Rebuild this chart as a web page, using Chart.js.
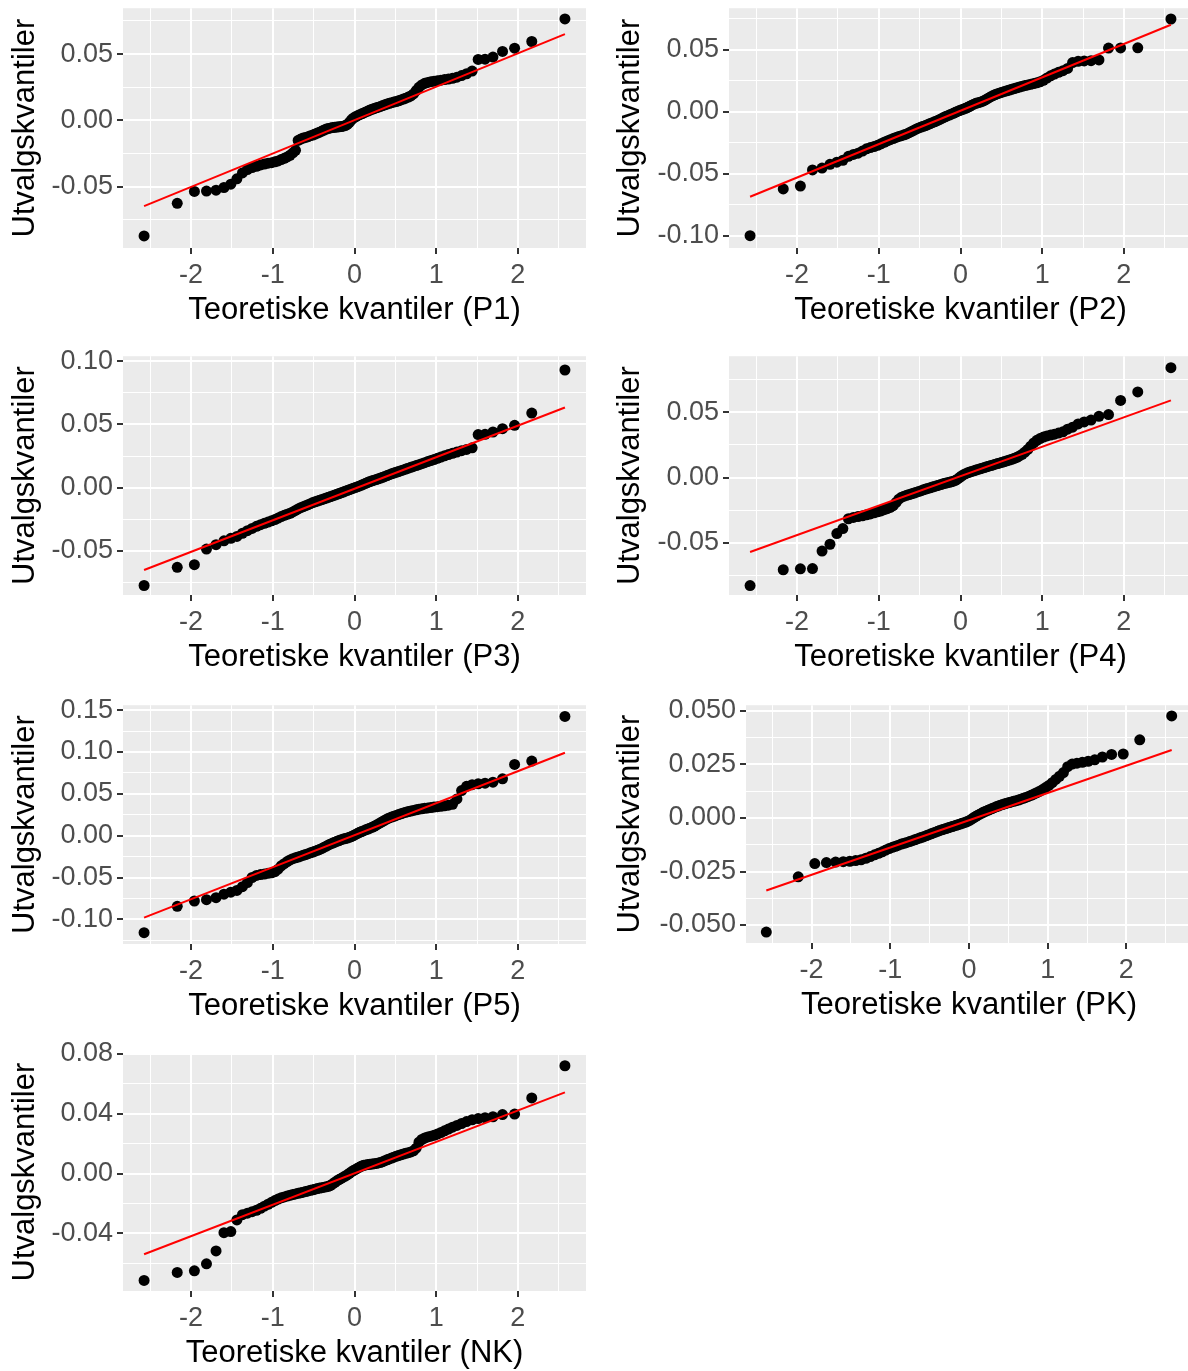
<!DOCTYPE html>
<html>
<head>
<meta charset="utf-8">
<script src="https://cdn.jsdelivr.net/npm/chart.js@4.4.1/dist/chart.umd.min.js"></script>
<style>
  html, body { margin: 0; padding: 0; background: #fff; overflow: hidden; }
  #page { position: relative; width: 1188px; height: 1371px; overflow: hidden; }
  #page canvas { position: absolute; }
</style>
</head>
<body>
<div id="page"></div>
<script>
// theoretical normal quantiles, n = 100
const theoretical = [
  -2.576, -2.170, -1.960, -1.812, -1.695, -1.598, -1.514, -1.440, -1.372, -1.311,
  -1.254, -1.200, -1.150, -1.103, -1.058, -1.015, -0.974, -0.935, -0.897, -0.860,
  -0.824, -0.789, -0.755, -0.722, -0.690, -0.659, -0.628, -0.598, -0.568, -0.539,
  -0.510, -0.482, -0.454, -0.426, -0.399, -0.372, -0.345, -0.319, -0.292, -0.266,
  -0.240, -0.215, -0.189, -0.164, -0.138, -0.113, -0.088, -0.063, -0.038, -0.013,
  0.013, 0.038, 0.063, 0.088, 0.113, 0.138, 0.164, 0.189, 0.215, 0.240,
  0.266, 0.292, 0.319, 0.345, 0.372, 0.399, 0.426, 0.454, 0.482, 0.510,
  0.539, 0.568, 0.598, 0.628, 0.659, 0.690, 0.722, 0.755, 0.789, 0.824,
  0.860, 0.897, 0.935, 0.974, 1.015, 1.058, 1.103, 1.150, 1.200, 1.254,
  1.311, 1.372, 1.440, 1.514, 1.598, 1.695, 1.812, 1.960, 2.170, 2.576
];

// sample quantiles
const p1Sample = [
  -0.0870, -0.0624, -0.0535, -0.0532, -0.0525, -0.0505, -0.0480, -0.0440, -0.0395, -0.0370,
  -0.0355, -0.0345, -0.0335, -0.0328, -0.0322, -0.0318, -0.0312, -0.0305, -0.0295, -0.0285,
  -0.0275, -0.0262, -0.0245, -0.0225, -0.0150, -0.0140, -0.0133, -0.0128, -0.0122, -0.0115,
  -0.0110, -0.0102, -0.0095, -0.0088, -0.0080, -0.0072, -0.0065, -0.0060, -0.0056, -0.0053,
  -0.0051, -0.0050, -0.0048, -0.0046, -0.0043, -0.0038, -0.0030, -0.0015, 0.0005, 0.0018,
  0.0028, 0.0036, 0.0044, 0.0050, 0.0057, 0.0064, 0.0071, 0.0078, 0.0084, 0.0090,
  0.0095, 0.0100, 0.0106, 0.0112, 0.0118, 0.0124, 0.0129, 0.0134, 0.0139, 0.0143,
  0.0148, 0.0155, 0.0161, 0.0168, 0.0176, 0.0185, 0.0200, 0.0225, 0.0250, 0.0268,
  0.0280, 0.0287, 0.0292, 0.0296, 0.0300, 0.0304, 0.0308, 0.0312, 0.0318, 0.0326,
  0.0338, 0.0352, 0.0372, 0.0460, 0.0462, 0.0478, 0.0520, 0.0545, 0.0595, 0.0765
];
const p2Sample = [
  -0.1000, -0.0623, -0.0600, -0.0470, -0.0455, -0.0425, -0.0408, -0.0392, -0.0360, -0.0345,
  -0.0335, -0.0318, -0.0300, -0.0290, -0.0282, -0.0272, -0.0260, -0.0248, -0.0236, -0.0226,
  -0.0217, -0.0208, -0.0200, -0.0194, -0.0187, -0.0180, -0.0170, -0.0160, -0.0150, -0.0140,
  -0.0132, -0.0125, -0.0118, -0.0112, -0.0104, -0.0096, -0.0089, -0.0082, -0.0075, -0.0067,
  -0.0059, -0.0050, -0.0042, -0.0035, -0.0028, -0.0021, -0.0014, -0.0006, 0.0001, 0.0008,
  0.0014, 0.0020, 0.0027, 0.0035, 0.0043, 0.0052, 0.0060, 0.0067, 0.0072, 0.0076,
  0.0082, 0.0090, 0.0100, 0.0110, 0.0120, 0.0129, 0.0137, 0.0144, 0.0150, 0.0156,
  0.0162, 0.0168, 0.0174, 0.0180, 0.0186, 0.0192, 0.0198, 0.0204, 0.0210, 0.0215,
  0.0220, 0.0226, 0.0232, 0.0240, 0.0252, 0.0270, 0.0288, 0.0302, 0.0316, 0.0330,
  0.0348, 0.0395, 0.0405, 0.0408, 0.0410, 0.0416, 0.0512, 0.0513, 0.0514, 0.0746
];
const p3Sample = [
  -0.0773, -0.0629, -0.0608, -0.0485, -0.0450, -0.0420, -0.0400, -0.0385, -0.0360, -0.0340,
  -0.0322, -0.0305, -0.0292, -0.0282, -0.0272, -0.0262, -0.0252, -0.0240, -0.0228, -0.0218,
  -0.0210, -0.0202, -0.0192, -0.0180, -0.0168, -0.0158, -0.0150, -0.0142, -0.0134, -0.0126,
  -0.0118, -0.0112, -0.0106, -0.0100, -0.0094, -0.0088, -0.0082, -0.0076, -0.0070, -0.0064,
  -0.0058, -0.0052, -0.0046, -0.0040, -0.0034, -0.0028, -0.0022, -0.0016, -0.0010, -0.0004,
  0.0002, 0.0008, 0.0014, 0.0021, 0.0028, 0.0035, 0.0042, 0.0048, 0.0054, 0.0059,
  0.0064, 0.0070, 0.0076, 0.0082, 0.0089, 0.0096, 0.0103, 0.0110, 0.0116, 0.0122,
  0.0128, 0.0134, 0.0140, 0.0147, 0.0154, 0.0161, 0.0168, 0.0175, 0.0182, 0.0190,
  0.0198, 0.0206, 0.0214, 0.0222, 0.0232, 0.0242, 0.0252, 0.0262, 0.0272, 0.0282,
  0.0292, 0.0302, 0.0315, 0.0420, 0.0422, 0.0440, 0.0466, 0.0493, 0.0590, 0.0930
];
const p4Sample = [
  -0.0826, -0.0705, -0.0698, -0.0696, -0.0562, -0.0510, -0.0428, -0.0390, -0.0315, -0.0305,
  -0.0298, -0.0292, -0.0285, -0.0278, -0.0270, -0.0262, -0.0255, -0.0246, -0.0238, -0.0228,
  -0.0215, -0.0190, -0.0165, -0.0150, -0.0142, -0.0136, -0.0130, -0.0124, -0.0118, -0.0112,
  -0.0106, -0.0100, -0.0094, -0.0088, -0.0083, -0.0078, -0.0073, -0.0068, -0.0063, -0.0058,
  -0.0053, -0.0048, -0.0044, -0.0040, -0.0036, -0.0032, -0.0028, -0.0022, -0.0012, 0.0000,
  0.0012, 0.0022, 0.0030, 0.0036, 0.0042, 0.0047, 0.0052, 0.0057, 0.0062, 0.0067,
  0.0072, 0.0077, 0.0082, 0.0087, 0.0092, 0.0097, 0.0102, 0.0107, 0.0112, 0.0117,
  0.0122, 0.0128, 0.0134, 0.0140, 0.0147, 0.0155, 0.0165, 0.0178, 0.0195, 0.0215,
  0.0240, 0.0265, 0.0285, 0.0298, 0.0310, 0.0318, 0.0325, 0.0332, 0.0340, 0.0350,
  0.0370, 0.0385, 0.0410, 0.0425, 0.0440, 0.0468, 0.0482, 0.0590, 0.0655, 0.0840
];
const p5Sample = [
  -0.1160, -0.0844, -0.0781, -0.0765, -0.0741, -0.0700, -0.0675, -0.0655, -0.0610, -0.0560,
  -0.0500, -0.0475, -0.0465, -0.0458, -0.0450, -0.0443, -0.0430, -0.0400, -0.0360, -0.0335,
  -0.0310, -0.0290, -0.0275, -0.0265, -0.0255, -0.0245, -0.0235, -0.0225, -0.0215, -0.0205,
  -0.0195, -0.0185, -0.0175, -0.0165, -0.0152, -0.0138, -0.0125, -0.0110, -0.0098, -0.0088,
  -0.0078, -0.0068, -0.0058, -0.0048, -0.0040, -0.0034, -0.0028, -0.0020, -0.0010, 0.0002,
  0.0015, 0.0028, 0.0040, 0.0050, 0.0060, 0.0070, 0.0080, 0.0090, 0.0100, 0.0112,
  0.0125, 0.0140, 0.0155, 0.0170, 0.0185, 0.0200, 0.0212, 0.0222, 0.0232, 0.0242,
  0.0252, 0.0262, 0.0272, 0.0280, 0.0288, 0.0295, 0.0302, 0.0310, 0.0317, 0.0322,
  0.0327, 0.0332, 0.0337, 0.0342, 0.0347, 0.0352, 0.0358, 0.0365, 0.0375, 0.0440,
  0.0540, 0.0590, 0.0610, 0.0620, 0.0628, 0.0640, 0.0680, 0.0852, 0.0892, 0.1426
];
const pkSample = [
  -0.0533, -0.0275, -0.0213, -0.0208, -0.0206, -0.0204, -0.0202, -0.0199, -0.0195, -0.0188,
  -0.0180, -0.0172, -0.0165, -0.0158, -0.0150, -0.0143, -0.0137, -0.0132, -0.0127, -0.0122,
  -0.0118, -0.0114, -0.0110, -0.0106, -0.0102, -0.0098, -0.0094, -0.0090, -0.0086, -0.0082,
  -0.0078, -0.0074, -0.0070, -0.0066, -0.0062, -0.0058, -0.0055, -0.0052, -0.0049, -0.0046,
  -0.0043, -0.0040, -0.0037, -0.0034, -0.0031, -0.0028, -0.0025, -0.0022, -0.0019, -0.0015,
  -0.0010, -0.0004, 0.0002, 0.0008, 0.0013, 0.0018, 0.0023, 0.0028, 0.0032, 0.0036,
  0.0040, 0.0044, 0.0048, 0.0052, 0.0056, 0.0060, 0.0063, 0.0066, 0.0069, 0.0072,
  0.0075, 0.0078, 0.0081, 0.0084, 0.0088, 0.0092, 0.0096, 0.0101, 0.0106, 0.0112,
  0.0118, 0.0125, 0.0133, 0.0142, 0.0152, 0.0165, 0.0180, 0.0195, 0.0212, 0.0240,
  0.0252, 0.0256, 0.0260, 0.0265, 0.0272, 0.0285, 0.0297, 0.0299, 0.0365, 0.0477
];
const nkSample = [
  -0.0714, -0.0661, -0.0650, -0.0603, -0.0517, -0.0395, -0.0388, -0.0310, -0.0275, -0.0265,
  -0.0255, -0.0245, -0.0232, -0.0218, -0.0205, -0.0192, -0.0180, -0.0170, -0.0162, -0.0156,
  -0.0150, -0.0145, -0.0140, -0.0136, -0.0132, -0.0128, -0.0124, -0.0120, -0.0116, -0.0112,
  -0.0108, -0.0104, -0.0100, -0.0097, -0.0094, -0.0091, -0.0088, -0.0085, -0.0078, -0.0068,
  -0.0058, -0.0048, -0.0040, -0.0032, -0.0024, -0.0016, -0.0008, 0.0002, 0.0012, 0.0020,
  0.0028, 0.0036, 0.0044, 0.0050, 0.0055, 0.0058, 0.0060, 0.0062, 0.0064, 0.0066,
  0.0068, 0.0071, 0.0075, 0.0080, 0.0086, 0.0092, 0.0098, 0.0104, 0.0110, 0.0116,
  0.0121, 0.0126, 0.0131, 0.0136, 0.0140, 0.0145, 0.0152, 0.0170, 0.0210, 0.0228,
  0.0238, 0.0245, 0.0250, 0.0256, 0.0264, 0.0274, 0.0286, 0.0298, 0.0310, 0.0322,
  0.0335, 0.0348, 0.0360, 0.0368, 0.0374, 0.0380, 0.0395, 0.0398, 0.0506, 0.0721
];

// reference lines (through the quartiles), drawn across the data range
const lineX = [-2.576, 2.576];
const p1Line = [-0.0645, 0.0651];
const p2Line = [-0.0686, 0.0700];
const p3Line = [-0.0650, 0.0634];
const p4Line = [-0.0569, 0.0590];
const p5Line = [-0.0980, 0.0992];
const pkLine = [-0.0339, 0.0318];
const nkLine = [-0.0539, 0.0543];

// tick labels
const xTicks = [-2, -1, 0, 1, 2];
const p1YTicks = [-0.05, 0, 0.05];
const p2YTicks = [-0.10, -0.05, 0, 0.05];
const p3YTicks = [-0.05, 0, 0.05, 0.10];
const p4YTicks = [-0.05, 0, 0.05];
const p5YTicks = [-0.10, -0.05, 0, 0.05, 0.10, 0.15];
const pkYTicks = [-0.050, -0.025, 0, 0.025, 0.050];
const nkYTicks = [-0.04, 0, 0.04, 0.08];

const panels = [
  { id: 'P1', sample: p1Sample, line: p1Line, yTicks: p1YTicks, dec: 2, yMin: -0.0961, yMax: 0.0846, box: [123, 8, 586, 248], cell: 0 },
  { id: 'P2', sample: p2Sample, line: p2Line, yTicks: p2YTicks, dec: 2, yMin: -0.1099, yMax: 0.0833, box: [729, 8, 1192, 248], cell: 605 },
  { id: 'P3', sample: p3Sample, line: p3Line, yTicks: p3YTicks, dec: 2, yMin: -0.0848, yMax: 0.1039, box: [123, 356, 586, 595], cell: 0 },
  { id: 'P4', sample: p4Sample, line: p4Line, yTicks: p4YTicks, dec: 2, yMin: -0.0898, yMax: 0.0928, box: [729, 356, 1192, 595], cell: 605 },
  { id: 'P5', sample: p5Sample, line: p5Line, yTicks: p5YTicks, dec: 2, yMin: -0.1295, yMax: 0.1560, box: [123, 705, 586, 944], cell: 0 },
  { id: 'PK', sample: pkSample, line: pkLine, yTicks: pkYTicks, dec: 3, yMin: -0.0584, yMax: 0.0527, box: [746, 705, 1192, 943], cell: 605 },
  { id: 'NK', sample: nkSample, line: nkLine, yTicks: nkYTicks, dec: 2, yMin: -0.0785, yMax: 0.0805, box: [123, 1053, 586, 1291], cell: 0 }
];

const FONT = "'Liberation Sans', Arial, sans-serif";
const X_MIN = -2.834, X_MAX = 2.834;

// major breaks plus ggplot-style minor breaks halfway between
function withMinor(major, min, max) {
  const step = major[1] - major[0];
  const out = [];
  for (let v = major[0] - step / 2; v <= major[major.length - 1] + step / 2 + 1e-9; v += step / 2) {
    if (v >= min && v <= max) out.push(+v.toFixed(6));
  }
  return out;
}
const isMajor = (major, v) => major.some(m => Math.abs(m - v) < 1e-7);

const panelBg = {
  id: 'panelBg',
  beforeDraw(chart) {
    const { ctx, chartArea: a } = chart;
    ctx.save();
    ctx.fillStyle = '#EBEBEB';
    ctx.fillRect(a.left, a.top, a.right - a.left, a.bottom - a.top);
    ctx.restore();
  }
};

function gridFor(major) {
  return {
    color: '#FFFFFF',
    lineWidth: c => (c.tick && isMajor(major, c.tick.value)) ? 2 : 1,
    drawTicks: true,
    tickLength: 6,
    tickWidth: 2,
    tickColor: c => (c.tick && isMajor(major, c.tick.value)) ? '#333333' : 'rgba(0,0,0,0)'
  };
}

const page = document.getElementById('page');
const TOP_PAD = 20, RIGHT_PAD = 8, X_AXIS_H = 82;

panels.forEach(p => {
  const [l, t, r, b] = p.box;
  const axisW = l - p.cell;
  const w = axisW + (r - l) + RIGHT_PAD;
  const h = TOP_PAD + (b - t) + X_AXIS_H;

  const cv = document.createElement('canvas');
  cv.width = w; cv.height = h;
  cv.style.width = w + 'px'; cv.style.height = h + 'px';
  cv.style.left = p.cell + 'px'; cv.style.top = (t - TOP_PAD) + 'px';
  page.appendChild(cv);

  const yBreaks = withMinor(p.yTicks, p.yMin, p.yMax);
  const xBreaks = withMinor(xTicks, X_MIN, X_MAX);

  new Chart(cv.getContext('2d'), {
    type: 'scatter',
    data: {
      datasets: [
        {
          data: lineX.map((x, i) => ({ x: x, y: p.line[i] })),
          showLine: true,
          borderColor: '#FF0000',
          borderWidth: 2,
          pointRadius: 0,
          fill: false
        },
        {
          data: theoretical.map((x, i) => ({ x: x, y: p.sample[i] })),
          backgroundColor: '#000000',
          borderWidth: 0,
          pointRadius: 5.5,
          pointHoverRadius: 5.5
        }
      ]
    },
    options: {
      responsive: false,
      devicePixelRatio: 1,
      animation: false,
      events: [],
      layout: { padding: { top: TOP_PAD, right: RIGHT_PAD, bottom: 0, left: 0 } },
      plugins: { legend: { display: false }, tooltip: { enabled: false } },
      scales: {
        x: {
          type: 'linear',
          min: X_MIN, max: X_MAX,
          afterBuildTicks: s => { s.ticks = xBreaks.map(v => ({ value: v })); },
          afterFit: s => { s.height = X_AXIS_H; },
          border: { display: false },
          grid: gridFor(xTicks),
          ticks: {
            autoSkip: false, maxRotation: 0, padding: 5,
            color: '#4D4D4D', font: { family: FONT, size: 27 },
            callback: v => isMajor(xTicks, v) ? String(Math.round(v)) : ''
          },
          title: {
            display: true, text: 'Teoretiske kvantiler (' + p.id + ')',
            color: '#000000', font: { family: FONT, size: 31 },
            padding: { top: 2, bottom: 1 }
          }
        },
        y: {
          type: 'linear',
          min: p.yMin, max: p.yMax,
          afterBuildTicks: s => { s.ticks = yBreaks.map(v => ({ value: v })); },
          afterFit: s => { s.width = axisW; },
          border: { display: false },
          grid: gridFor(p.yTicks),
          ticks: {
            autoSkip: false, padding: 4,
            color: '#4D4D4D', font: { family: FONT, size: 27 },
            callback: v => isMajor(p.yTicks, v) ? v.toFixed(p.dec) : ''
          },
          title: {
            display: true, text: 'Utvalgskvantiler',
            color: '#000000', font: { family: FONT, size: 31 },
            padding: { top: 7, bottom: 2 }
          }
        }
      }
    },
    plugins: [panelBg]
  });
});
</script>
</body>
</html>
